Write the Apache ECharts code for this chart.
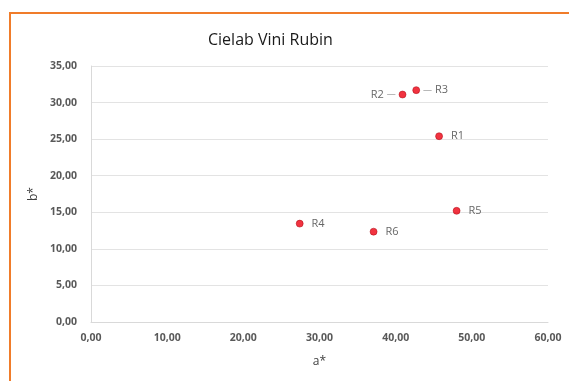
<!DOCTYPE html>
<html>
<head>
<meta charset="utf-8">
<script src="https://cdn.jsdelivr.net/npm/echarts@6/dist/echarts.min.js"></script>
<style>
  html, body { margin: 0; padding: 0; background: #ffffff; }
  #chart { width: 569px; height: 381px; }
</style>
</head>
<body>
<div id="chart"></div>
<script>
// Wine samples: a* (x) and b* (y) CIELab coordinates
const sampleNames = ['R1', 'R2', 'R3', 'R4', 'R5', 'R6'];
const aValues = [45.7, 40.9, 42.7, 27.4, 48.0, 37.1];
const bValues = [25.4, 31.1, 31.7, 13.45, 15.2, 12.35];
const xTicks = [0, 10, 20, 30, 40, 50, 60];
const yTicks = [0, 5, 10, 15, 20, 25, 30, 35];

const fmt = v => v.toFixed(2).replace('.', ',');

const points = sampleNames.map((name, i) => {
  const p = { name: name, value: [aValues[i], bValues[i]] };
  if (name === 'R2') {
    p.label = { position: 'left', distance: 3, formatter: '{n|R2} {d|—}' };
  } else if (name === 'R3') {
    p.label = { position: 'right', distance: 3, formatter: '{d|—} {n|R3}' };
  }
  return p;
});

const chart = echarts.init(document.getElementById('chart'));
chart.setOption({
  animation: false,
  backgroundColor: '#ffffff',
  textStyle: { fontFamily: '"Open Sans", "Noto Sans", sans-serif' },
  title: {
    text: 'Cielab Vini Rubin',
    left: 203,
    top: 27,
    textStyle: { fontSize: 16, fontWeight: 'normal', color: '#1a1a1a', fontFamily: '"Open Sans", sans-serif' }
  },
  graphic: [
    {
      type: 'polyline',
      shape: { points: [[10, 381], [10, 13], [569, 13]] },
      style: { stroke: '#f07c2a', lineWidth: 2, fill: null }
    }
  ],
  grid: { left: 91, right: 21, top: 66, bottom: 59 },
  xAxis: {
    type: 'value',
    min: xTicks[0],
    max: xTicks[xTicks.length - 1],
    interval: 10,
    name: 'a*',
    nameLocation: 'middle',
    nameGap: 34,
    nameTextStyle: { fontSize: 12, color: '#404040' },
    axisLine: { show: true, lineStyle: { color: '#d9d9d9', width: 1 } },
    axisTick: { show: false },
    splitLine: { show: false },
    axisLabel: { formatter: fmt, fontSize: 10.5, color: '#595959', fontWeight: 'bold', margin: 11 }
  },
  yAxis: {
    type: 'value',
    min: yTicks[0],
    max: yTicks[yTicks.length - 1],
    interval: 5,
    name: 'b*',
    nameLocation: 'middle',
    nameGap: 50,
    nameTextStyle: { fontSize: 12, color: '#404040' },
    axisLine: { show: true, lineStyle: { color: '#d9d9d9', width: 1 } },
    axisTick: { show: false },
    splitLine: { show: true, lineStyle: { color: '#e3e3e3', width: 1 } },
    axisLabel: { formatter: fmt, fontSize: 10.5, color: '#595959', fontWeight: 'bold', margin: 14 }
  },
  series: [
    {
      type: 'scatter',
      symbol: 'circle',
      symbolSize: 7,
      itemStyle: { color: '#ee0010', borderColor: '#a8000c', borderWidth: 0.6 },
      data: points,
      label: {
        show: true,
        position: 'right',
        distance: 8,
        formatter: '{b}',
        fontSize: 11,
        color: '#404040',
        rich: {
          n: { fontSize: 11, color: '#404040' },
          d: { fontSize: 9, color: '#808080' }
        }
      }
    }
  ]
});
</script>
</body>
</html>
